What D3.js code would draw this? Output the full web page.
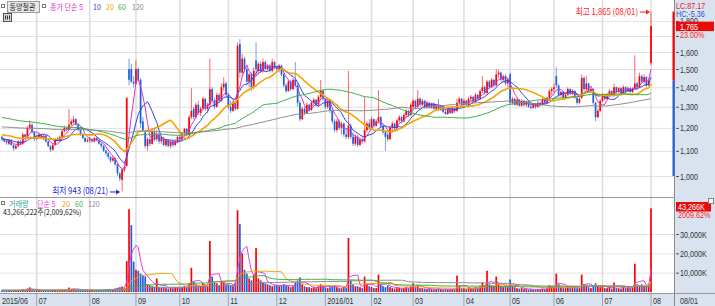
<!DOCTYPE html>
<html>
<head>
<meta charset="utf-8">
<script src="https://cdn.jsdelivr.net/npm/d3@7"></script>
<style>
  body { margin: 0; background: #fff; }
  svg { display: block; }
</style>
</head>
<body>
<div id="chart"></div>
<script>
// month axis: label and trading days shown in each month
const monthLabels = ["2015/06", "07", "08", "09", "10", "11", "12", "2016/01", "02", "03", "04", "05", "06", "07", "08"];
const monthDays = [15, 23, 20, 19, 21, 21, 21, 20, 18, 22, 20, 19, 21, 21, 1];

// daily candles, one line per month
const opens = [
  1160,1150,1145,1130,1145,1125,1110,1120,1140,1130,1170,1160,1200,1215,1180,
  1150,1160,1170,1150,1165,1140,1120,1105,1125,1150,1145,1160,1185,1200,1195,1215,1225,1240,1215,1190,1170,1155,1140,
  1145,1150,1140,1155,1145,1130,1120,1100,1090,1075,1060,1070,1045,1010,985,1025,1040,1500,1500,1430,
  1420,1500,1440,1230,1180,1120,1150,1130,1180,1150,1170,1140,1150,1125,1145,1120,1140,1125,1140,
  1160,1150,1175,1195,1170,1250,1290,1250,1310,1270,1290,1340,1290,1310,1390,1330,1300,1360,1330,1400,1420,
  1360,1300,1280,1320,1290,1650,1480,1560,1500,1430,1470,1400,1550,1490,1530,1490,1540,1500,1520,1490,1540,
  1510,1500,1520,1470,1410,1380,1430,1390,1440,1410,1320,1240,1290,1270,1310,1285,1320,1335,1310,1350,1380,
  1340,1300,1330,1280,1230,1190,1230,1200,1220,1170,1160,1210,1160,1130,1160,1125,1150,1140,1190,1220,
  1200,1240,1210,1230,1250,1210,1180,1170,1150,1200,1220,1200,1235,1250,1230,1260,1280,1260,
  1300,1330,1300,1340,1310,1330,1300,1320,1295,1315,1290,1305,1285,1300,1275,1265,1290,1270,1295,1280,1320,1340,
  1310,1330,1310,1340,1350,1325,1360,1340,1380,1400,1370,1430,1400,1440,1410,1470,1480,1440,1460,1420,
  1470,1320,1340,1310,1335,1305,1330,1310,1325,1300,1295,1315,1300,1320,1310,1335,1320,1345,1380,
  1390,1460,1410,1360,1375,1345,1360,1390,1365,1380,1345,1320,1345,1450,1390,1420,1380,1390,1320,1250,1280,
  1330,1360,1340,1360,1380,1355,1400,1375,1395,1370,1400,1380,1395,1375,1395,1420,1400,1460,1430,1455,1410,
  1535
];
const highs = [
  1165,1155,1150,1150,1150,1130,1125,1145,1145,1180,1175,1210,1235,1220,1185,
  1170,1180,1175,1170,1170,1145,1125,1130,1155,1160,1165,1190,1210,1205,1290,1240,1255,1245,1220,1195,1175,1160,1155,
  1160,1155,1160,1160,1150,1135,1125,1105,1095,1080,1080,1075,1050,1015,1030,1050,1345,1560,1530,1460,
  1550,1510,1450,1250,1190,1160,1160,1200,1200,1190,1180,1165,1160,1150,1150,1145,1145,1150,1165,
  1170,1180,1200,1200,1260,1395,1300,1320,1330,1300,1350,1345,1320,1560,1400,1345,1370,1370,1420,1455,1430,
  1370,1330,1330,1325,1660,1680,1590,1570,1510,1480,1480,1510,1660,1540,1545,1560,1550,1530,1530,1560,1550,
  1520,1530,1525,1480,1420,1440,1440,1450,1540,1420,1330,1300,1300,1320,1315,1330,1345,1340,1360,1440,1390,
  1350,1340,1335,1290,1240,1240,1240,1230,1225,1200,1490,1220,1180,1170,1170,1160,1160,1350,1230,1240,
  1250,1245,1240,1385,1255,1220,1190,1180,1210,1230,1225,1240,1260,1255,1270,1290,1285,1320,
  1340,1335,1385,1350,1340,1335,1330,1325,1320,1320,1310,1340,1310,1305,1290,1300,1295,1300,1300,1340,1350,1345,
  1340,1335,1350,1360,1355,1370,1365,1390,1460,1410,1440,1440,1450,1445,1500,1495,1485,1470,1470,1450,
  1480,1350,1345,1345,1340,1340,1335,1330,1330,1315,1320,1320,1330,1325,1345,1340,1350,1390,1400,
  1420,1510,1415,1380,1380,1370,1400,1395,1390,1385,1350,1350,1470,1460,1460,1425,1400,1395,1325,1290,1340,
  1370,1365,1370,1390,1385,1420,1405,1400,1400,1410,1405,1405,1400,1400,1580,1430,1480,1470,1470,1460,1450,
  1865
];
const lows = [
  1140,1135,1125,1125,1120,1100,1105,1115,1125,1125,1155,1155,1190,1175,1140,
  1145,1150,1150,1145,1135,1115,1095,1100,1120,1140,1140,1155,1180,1185,1190,1210,1220,1210,1185,1165,1150,1135,1135,
  1135,1135,1135,1140,1125,1110,1095,1080,1065,1050,1055,1040,1000,980,943,1015,1035,1410,1420,1400,
  1415,1430,1200,1180,1110,1100,1120,1125,1140,1140,1130,1130,1120,1115,1115,1110,1115,1120,1135,
  1140,1145,1165,1160,1165,1240,1240,1245,1260,1255,1280,1280,1270,1300,1320,1290,1295,1320,1325,1380,1350,
  1290,1270,1275,1280,1285,1450,1460,1480,1410,1400,1380,1390,1460,1470,1480,1480,1490,1490,1480,1480,1500,
  1490,1480,1460,1400,1370,1375,1380,1385,1400,1300,1230,1235,1260,1265,1275,1280,1305,1300,1300,1340,1330,
  1290,1290,1270,1220,1180,1180,1190,1170,1160,1150,1150,1150,1120,1120,1115,1120,1130,1135,1180,1190,
  1195,1200,1205,1220,1200,1170,1100,1140,1145,1190,1190,1195,1225,1220,1225,1250,1250,1255,
  1290,1290,1295,1300,1300,1290,1290,1290,1290,1285,1280,1280,1280,1270,1260,1260,1265,1265,1270,1275,1310,1300,
  1305,1305,1305,1325,1320,1320,1330,1335,1370,1360,1365,1390,1395,1400,1405,1450,1430,1425,1410,1400,
  1310,1310,1305,1305,1300,1300,1300,1300,1295,1285,1290,1290,1295,1300,1305,1315,1315,1340,1360,
  1370,1395,1350,1350,1340,1340,1355,1360,1360,1340,1310,1315,1340,1380,1385,1370,1370,1310,1230,1245,1275,
  1320,1330,1335,1350,1350,1350,1370,1370,1365,1365,1370,1375,1370,1370,1390,1390,1395,1420,1420,1400,1405,
  1520
];
const closes = [
  1150,1140,1135,1145,1125,1110,1120,1140,1130,1170,1160,1200,1215,1180,1150,
  1160,1170,1155,1165,1140,1120,1105,1125,1150,1145,1160,1185,1200,1195,1215,1230,1240,1215,1190,1170,1155,1140,1145,
  1150,1140,1155,1145,1130,1120,1100,1090,1075,1060,1070,1045,1010,990,1025,1035,1345,1440,1430,1420,
  1500,1440,1220,1190,1120,1150,1130,1185,1150,1170,1140,1155,1125,1145,1120,1140,1125,1140,1160,
  1150,1175,1195,1170,1250,1280,1250,1310,1270,1290,1340,1290,1310,1390,1330,1300,1360,1330,1400,1420,1360,
  1300,1280,1320,1290,1640,1480,1560,1500,1430,1470,1400,1490,1500,1530,1490,1540,1500,1520,1490,1540,1510,
  1500,1520,1470,1410,1380,1430,1390,1440,1410,1320,1240,1290,1270,1310,1285,1320,1335,1310,1350,1380,1340,
  1300,1330,1280,1230,1190,1230,1200,1220,1170,1160,1210,1160,1130,1160,1125,1150,1140,1190,1220,1200,
  1240,1210,1230,1250,1210,1180,1160,1150,1200,1220,1200,1235,1250,1230,1260,1280,1260,1310,
  1330,1300,1340,1310,1330,1300,1320,1295,1315,1290,1305,1285,1300,1275,1265,1290,1270,1295,1280,1320,1340,1310,
  1330,1310,1340,1350,1325,1360,1340,1380,1400,1370,1430,1400,1440,1410,1470,1480,1440,1460,1420,1440,
  1320,1340,1310,1335,1305,1330,1310,1325,1300,1295,1315,1300,1320,1310,1335,1320,1345,1380,1390,
  1400,1410,1360,1375,1345,1360,1390,1365,1380,1345,1320,1340,1450,1390,1420,1380,1390,1320,1250,1280,1330,
  1360,1340,1360,1380,1355,1400,1375,1395,1370,1400,1380,1395,1375,1395,1420,1400,1460,1430,1455,1410,1435,
  1765
];
// volume in thousands of shares
const volumes = [
  900,700,800,600,900,1100,700,800,900,1500,900,1800,2400,1200,900,
  800,900,700,600,900,1000,1100,700,900,800,800,1200,1300,900,2300,1600,1700,1200,1000,900,800,700,800,
  800,700,900,700,900,1000,1200,1300,1500,1400,1200,1800,2200,2500,2800,1900,16000,42800,34600,15700,
  11500,11000,9500,8800,8000,4000,3500,3000,2800,7000,2500,2200,2600,2000,1800,2200,1900,2500,2300,
  2000,2500,3000,2200,4500,12500,5500,4000,3500,3000,4500,3500,3000,26400,8000,5000,4500,3500,5500,5000,4000,
  4000,3500,3000,5000,42300,35100,20000,11500,9500,7000,6000,9000,22800,7000,6000,5000,4500,4000,3500,3000,3500,
  3500,3000,3500,4000,3500,3000,2500,3000,5000,6000,7500,4000,3000,2500,2500,2000,2500,2000,3000,4000,3000,
  2500,2000,2500,3000,3500,2500,2000,2000,2500,2000,28000,6000,4000,3000,3000,2500,2000,8000,4000,3000,
  2500,2000,2000,9000,4000,3000,2500,3500,2500,2000,1800,2000,2200,1800,2000,2500,2000,3000,
  4500,2500,3500,2000,2000,1800,1500,1800,1500,1300,1500,1800,1500,1200,1500,1300,1200,1400,1300,8500,3000,2000,
  2000,1500,2500,2000,1800,2500,2000,3000,5000,3000,11000,4000,3500,3000,8000,4000,3000,2500,3000,2500,
  6500,3000,2500,2000,1800,2000,1500,1500,1300,1500,1200,1300,1500,1200,1800,1500,2000,3500,3000,
  2500,9500,4000,2500,2000,2000,3000,2000,2500,2000,2000,2000,9000,4000,3500,2500,2000,3500,4500,3000,2500,
  3000,2000,2000,2500,1800,4900,2000,2000,1800,2500,2000,2500,2000,2500,14600,4000,3500,4000,3000,3000,4000,
  43266
];

// moving averages; the unseen history before the first day is taken at these levels
const priceMaPeriods = [5, 10, 20, 60, 120];
const priceMaColors = ["#e030c8", "#2e48d8", "#f5a300", "#3cae48", "#8c8c8c"];
const priceMaPrior = [1155, 1150, 1170, 1250, 1205];
const volMaPeriods = [5, 20, 60, 120];
const volMaColors = ["#e040d8", "#f5a300", "#3cae48", "#8c8c8c"];
const volMaPrior = [900, 900, 900, 900];

const priceTicks = [1000, 1100, 1200, 1300, 1400, 1500, 1600, 1700, 1800];
const volTicks = [10000, 20000, 30000];

const W = 715, H = 306;
const plotR = 674;
const upColor = "#ff0000", downColor = "#1e5fe0";
const gridColor = "#e2e2e2", axisBg = "#d8e3ef";
const font = "'Liberation Sans','Noto Sans CJK KR',sans-serif";
const krFont = "'Noto Sans CJK KR','Liberation Sans',sans-serif";

const n = closes.length;
const monthStart = [];
let acc = 0;
monthDays.forEach(d => { monthStart.push(acc); acc += d; });

const x = d3.scaleLinear().domain([0, n - 1]).range([2, 651]);
const y = d3.scaleLog().domain([1000, 1600]).range([176, 52]);
const yv = d3.scaleLinear().domain([0, 45000]).range([292, 205]);

function sma(arr, p, prior) {
  return arr.map((_, i) => {
    let s = 0;
    for (let k = 0; k < p; k++) {
      const j = i - k;
      s += j >= 0 ? arr[j] : prior;
    }
    return s / p;
  });
}

// the terminal font is narrow, so squeeze text horizontally
function ntext(g, tx, ty, str, sx, anchor) {
  return g.append("text")
    .attr("transform", `translate(${tx},${ty}) scale(${sx},1)`)
    .attr("text-anchor", anchor || "start")
    .text(str);
}

const svg = d3.select("#chart").append("svg")
  .attr("width", W).attr("height", H)
  .style("font-family", font);

svg.append("rect").attr("width", W).attr("height", H).attr("fill", "#fff");
// right axis strip and bottom date strip
svg.append("rect").attr("x", plotR).attr("y", 0).attr("width", W - plotR).attr("height", H).attr("fill", axisBg);
svg.append("rect").attr("x", 0).attr("y", 294).attr("width", W).attr("height", H - 294).attr("fill", axisBg);

// grid
const grid = svg.append("g");
grid.selectAll(".hp").data(priceTicks).enter().append("line")
  .attr("x1", 0).attr("x2", plotR).attr("y1", d => y(d) + 0.5).attr("y2", d => y(d) + 0.5)
  .attr("stroke", gridColor);
grid.selectAll(".hv").data(volTicks).enter().append("line")
  .attr("x1", 0).attr("x2", plotR).attr("y1", d => yv(d) + 0.5).attr("y2", d => yv(d) + 0.5)
  .attr("stroke", gridColor);
grid.selectAll(".vm").data(monthStart.slice(1)).enter().append("line")
  .attr("x1", d => x(d)).attr("x2", d => x(d)).attr("y1", 0).attr("y2", 294)
  .attr("stroke", "#dcdcdc").attr("stroke-width", 1.5);

// panel borders
svg.append("line").attr("x1", 0).attr("x2", plotR).attr("y1", 197.5).attr("y2", 197.5).attr("stroke", "#9a9a9a");
svg.append("line").attr("x1", 0).attr("x2", W).attr("y1", 293.5).attr("y2", 293.5).attr("stroke", "#9a9a9a");
svg.append("line").attr("x1", plotR + 0.5).attr("x2", plotR + 0.5).attr("y1", 0).attr("y2", H).attr("stroke", "#8a8a8a");

svg.append("clipPath").attr("id", "pclip").append("rect").attr("x", 0).attr("y", 0).attr("width", plotR).attr("height", 197);
svg.append("clipPath").attr("id", "vclip").append("rect").attr("x", 0).attr("y", 198).attr("width", plotR).attr("height", 95);

const pg = svg.append("g").attr("clip-path", "url(#pclip)");
const idx = d3.range(n);
const isUp = i => closes[i] >= opens[i];

pg.selectAll(".wick").data(idx).enter().append("line")
  .attr("x1", i => x(i)).attr("x2", i => x(i))
  .attr("y1", i => y(highs[i])).attr("y2", i => y(lows[i]))
  .attr("stroke", i => isUp(i) ? upColor : downColor)
  .attr("stroke-opacity", 0.6).attr("stroke-width", 1);
pg.selectAll(".body").data(idx).enter().append("rect")
  .attr("x", i => x(i) - 0.85).attr("width", 1.7)
  .attr("y", i => y(Math.max(opens[i], closes[i])))
  .attr("height", i => Math.max(1, y(Math.min(opens[i], closes[i])) - y(Math.max(opens[i], closes[i]))))
  .attr("fill", i => isUp(i) ? upColor : downColor);

// price moving averages
priceMaPeriods.forEach((p, k) => {
  const ma = sma(closes, p, priceMaPrior[k]);
  pg.append("path").datum(ma)
    .attr("fill", "none").attr("stroke", priceMaColors[k])
    .attr("stroke-width", p === 20 ? 1.6 : 1)
    .attr("d", d3.line().x((d, i) => x(i)).y(d => y(d)));
});

// volume
const vg = svg.append("g").attr("clip-path", "url(#vclip)");
const volUp = i => i === 0 ? closes[0] >= opens[0] : closes[i] >= closes[i - 1];
vg.selectAll(".vbar").data(idx).enter().append("rect")
  .attr("x", i => x(i) - 0.85).attr("width", 1.7)
  .attr("y", i => yv(volumes[i]))
  .attr("height", i => Math.max(0.8, yv(0) - yv(volumes[i])))
  .attr("fill", i => volUp(i) ? upColor : downColor);
volMaPeriods.forEach((p, k) => {
  const ma = sma(volumes, p, volMaPrior[k]);
  vg.append("path").datum(ma)
    .attr("fill", "none").attr("stroke", volMaColors[k]).attr("stroke-width", 1)
    .attr("d", d3.line().x((d, i) => x(i)).y(d => yv(d)));
});

// high / low markers
const last = n - 1;
const lowIdx = d3.minIndex(lows);
const ann = svg.append("g").style("font-family", krFont).style("font-size", "9px");
ntext(ann, x(last) - 13, y(highs[last]) + 3.5, "최고 1,865 (08/01)", 0.86, "end").attr("fill", "#ff2020");
ann.append("line").attr("x1", x(last) - 11).attr("x2", x(last) - 2)
  .attr("y1", y(highs[last]) + 0.5).attr("y2", y(highs[last]) + 0.5).attr("stroke", "#ff2020");
ann.append("path").attr("d", `M${x(last) - 1},${y(highs[last]) + 0.5} l-4,-2.5 v5 z`).attr("fill", "#ff2020");
ntext(ann, x(lowIdx) - 14, y(lows[lowIdx]) + 3, "최저 943 (08/21)", 0.86, "end").attr("fill", "#2626d8");
ann.append("line").attr("x1", x(lowIdx) - 12).attr("x2", x(lowIdx) - 4)
  .attr("y1", y(lows[lowIdx]) + 0.5).attr("y2", y(lows[lowIdx]) + 0.5).attr("stroke", "#2626d8");
ann.append("path").attr("d", `M${x(lowIdx) - 2},${y(lows[lowIdx]) + 0.5} l-4,-2.5 v5 z`).attr("fill", "#2626d8");

// right price axis
const ax = svg.append("g").style("font-size", "9px").attr("fill", "#333");
const axS = 0.8;
// range bar: above / below the previous close
svg.append("line").attr("x1", plotR - 0.5).attr("x2", plotR - 0.5)
  .attr("y1", y(highs[last])).attr("y2", y(closes[last - 1])).attr("stroke", upColor).attr("stroke-width", 2);
svg.append("line").attr("x1", plotR - 0.5).attr("x2", plotR - 0.5)
  .attr("y1", y(closes[last - 1])).attr("y2", y(1000)).attr("stroke", downColor).attr("stroke-width", 2);

priceTicks.forEach(t => {
  ax.append("line").attr("x1", plotR + 2).attr("x2", plotR + 5).attr("y1", y(t) + 0.5).attr("y2", y(t) + 0.5).attr("stroke", "#555");
  if (t !== 1700) ntext(ax, plotR + 6, y(t) + 3.5, d3.format(",")(t), axS);
});
ntext(ax, plotR + 2, 9, "LC:87.17", axS).attr("fill", "#e82020");
ntext(ax, plotR + 2, 17, "HC:-5.36", axS).attr("fill", "#2a50e0");
ax.append("rect").attr("x", plotR + 2).attr("y", y(closes[last]) - 4.5).attr("width", 38).attr("height", 9.5).attr("fill", "#e80c0c");
ntext(ax, plotR + 6, y(closes[last]) + 3.5, d3.format(",")(closes[last]), axS).attr("fill", "#fff");
ntext(ax, plotR + 6, y(closes[last]) + 11.5, d3.format(".2f")((closes[last] / closes[last - 1] - 1) * 100) + "%", axS)
  .attr("fill", "#ff2020");

// right volume axis
volTicks.forEach(t => {
  ax.append("line").attr("x1", plotR + 2).attr("x2", plotR + 5).attr("y1", yv(t) + 0.5).attr("y2", yv(t) + 0.5).attr("stroke", "#555");
  ntext(ax, plotR + 6, yv(t) + 3.5, d3.format(",")(t) + "K", axS);
});
ax.append("rect").attr("x", plotR + 2).attr("y", 202).attr("width", 35).attr("height", 9.5).attr("fill", "#e80c0c");
ntext(ax, plotR + 4, 210, d3.format(",")(volumes[last]) + "K", axS).attr("fill", "#fff");
ntext(ax, plotR + 4, 218, "2009.62%", axS).attr("fill", "#ff2020");
ax.append("rect").attr("x", 708.5).attr("y", 198.5).attr("width", 5).attr("height", 5).attr("fill", "#f4f4f4").attr("stroke", "#888");

// bottom date axis
const dg = svg.append("g").style("font-size", "9.5px").attr("fill", "#333");
monthStart.forEach((s, k) => {
  if (k > 0) {
    dg.append("line").attr("x1", x(s)).attr("x2", x(s)).attr("y1", 294).attr("y2", H).attr("stroke", "#9aa4b0");
  }
  ntext(dg, k === 0 ? 2 : x(s) + 2, 303.5, monthLabels[k], 0.76);
});
ntext(dg, plotR + 6, 303.5, "08/01", 0.76);

// legends
const lg = svg.append("g").style("font-family", krFont).style("font-size", "8px");
const lgS = 0.88;
lg.append("rect").attr("x", 1.5).attr("y", 4.5).attr("width", 3).attr("height", 3).attr("fill", "#fff").attr("stroke", "#777");
lg.append("rect").attr("x", 7.5).attr("y", 1.5).attr("width", 32).attr("height", 11).attr("fill", "#e8e8e8").attr("stroke", "#9a9a9a");
ntext(lg, 9.5, 10, "동양철관", lgS).attr("fill", "#222");
lg.append("rect").attr("x", 42.5).attr("y", 4.5).attr("width", 3).attr("height", 3).attr("fill", "#fff").attr("stroke", "#777");
const priceLegend = [["종가 단순 5", 50], ["10", 93], ["20", 106], ["60", 118], ["120", 132]];
priceLegend.forEach((d, k) => {
  ntext(lg, d[1], 10, d[0], lgS).attr("fill", priceMaColors[k]);
});
lg.append("rect").attr("x", 3.5).attr("y", 13.5).attr("width", 8).attr("height", 8).attr("fill", "#d8d8d8").attr("stroke", "#555");
[5.5, 7.5, 9.5].forEach(px => {
  lg.append("line").attr("x1", px).attr("x2", px).attr("y1", 15.5).attr("y2", 19.5).attr("stroke", "#333");
});

lg.append("rect").attr("x", 1.5).attr("y", 201.5).attr("width", 3).attr("height", 3).attr("fill", "#fff").attr("stroke", "#777");
ntext(lg, 9, 207, "거래량", lgS).attr("fill", "#2aa0a0");
const volLegend = [["단순 5", 37], ["20", 62], ["60", 75], ["120", 88]];
volLegend.forEach((d, k) => {
  ntext(lg, d[1], 207, d[0], lgS).attr("fill", volMaColors[k]);
});
ntext(lg, 3, 215, "43,266,222주(2,009,62%)", 0.86).attr("fill", "#222");
</script>
</body>
</html>
